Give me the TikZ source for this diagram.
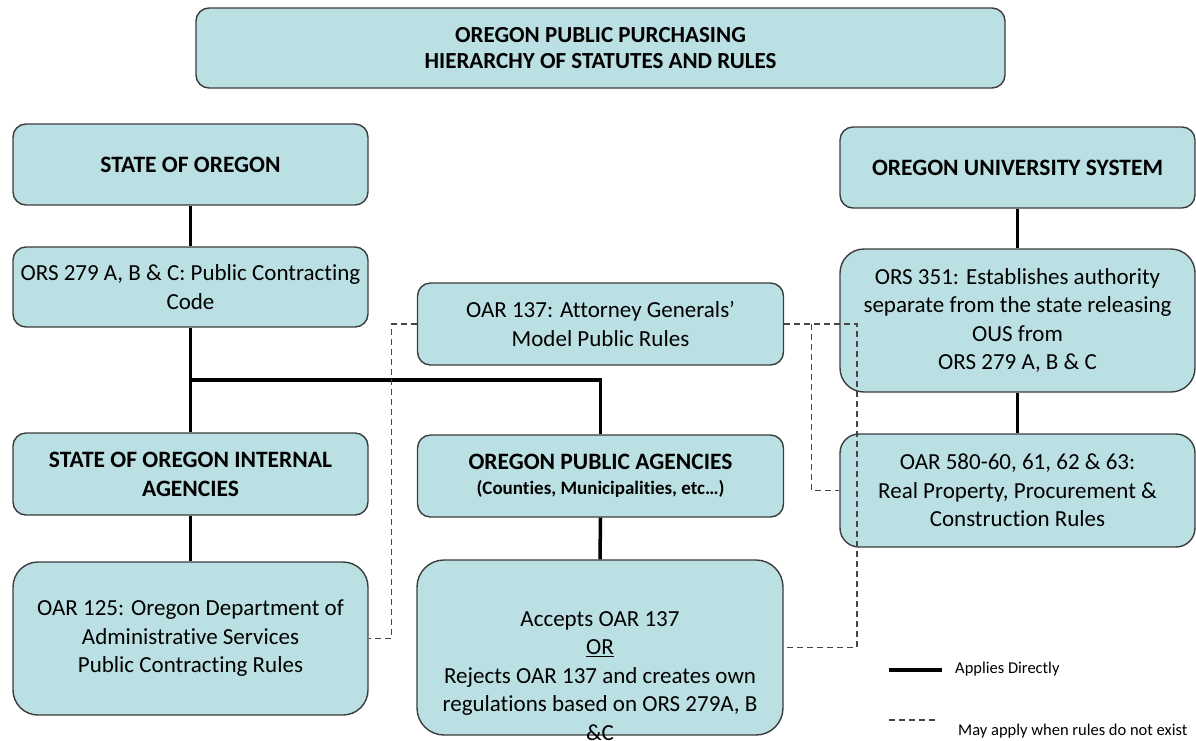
\documentclass[tikz,border=0pt]{standalone}
\usepackage{fontspec}
\setmainfont{Carlito}[Ligatures=NoCommon]
\definecolor{boxfill}{RGB}{187,224,227}
\definecolor{boxline}{RGB}{60,60,60}
\definecolor{dashgray}{RGB}{70,70,70}
\begin{document}
\begin{tikzpicture}[x=1pt,y=-1pt,
  card/.style={draw=boxline, line width=1.4pt, fill=boxfill, rounded corners=13pt,
    inner sep=0pt, align=center, text=black, font=\fontsize{23}{28.5}\selectfont},
  head/.style={card, font=\bfseries\fontsize{23.5}{29}\selectfont},
  plaintext/.style={inner sep=0pt, align=center, text=black, font=\fontsize{23}{28.5}\selectfont},
  legendtext/.style={inner sep=0pt, anchor=west, text=black, font=\fontsize{16.5}{19}\selectfont},
  direct/.style={line width=3.5pt, black},
  maybe/.style={line width=1.3pt, draw=dashgray, dash pattern=on 6pt off 4pt},
]
\useasboundingbox (0,0) rectangle (1196,740);

% title
\node[head, minimum width=809pt, minimum height=80pt, font=\bfseries\fontsize{23}{26}\selectfont]
  (title) at (600.5,48) {OREGON PUBLIC PURCHASING\\HIERARCHY OF STATUTES AND RULES};

% left column: state of Oregon
\node[head, minimum width=355pt, minimum height=81pt] (state) at (190.5,164.5) {STATE OF OREGON};
\node[card, minimum width=355pt, minimum height=80pt] (ors279) at (190.5,287) {ORS 279 A, B \& C: Public Contracting\\Code};
\node[head, minimum width=355pt, minimum height=82pt] (internal) at (190.5,474) {STATE OF OREGON INTERNAL\\AGENCIES};
\node[card, minimum width=355pt, minimum height=153pt, rounded corners=25pt] (oar125) at (190.5,638.5)
  {OAR 125: Oregon Department of\\Administrative Services\\Public Contracting Rules};

% middle column: public agencies
\node[card, minimum width=366pt, minimum height=82pt] (oar137) at (600.5,324) {OAR 137: Attorney Generals’\\Model Public Rules};
\node[head, minimum width=366pt, minimum height=82pt] (agencies) at (600.5,476)
  {OREGON PUBLIC AGENCIES\\[-4pt]{\fontsize{19}{21}\selectfont (Counties, Municipalities, etc…)}};
\node[card, minimum width=366pt, minimum height=175pt, rounded corners=27pt] (choice) at (600,647.5) {};
\node[plaintext] (choicetext) at (600,676)
  {Accepts OAR 137\\\underline{OR}\\Rejects OAR 137 and creates own\\regulations based on ORS 279A, B\\\&C};

% right column: university system
\node[head, minimum width=355pt, minimum height=81pt] (ous) at (1017.5,167.5) {OREGON UNIVERSITY SYSTEM};
\node[card, minimum width=355pt, minimum height=143pt, rounded corners=24pt] (ors351) at (1017.5,320.5)
  {ORS 351: Establishes authority\\separate from the state releasing\\OUS from\\ORS 279 A, B \& C};
\node[card, minimum width=355pt, minimum height=113pt, rounded corners=19pt] (oar580) at (1017.5,490.5)
  {OAR 580-60, 61, 62 \& 63:\\Real Property, Procurement \&\\Construction Rules};

% direct application
\draw[direct] (state.south) -- (ors279.north);
\draw[direct] (ors279.south) -- (internal.north);
\coordinate (branch) at (190.5,380);
\draw[direct] (branch) -| (agencies.north);
\draw[direct] (internal.south) -- (oar125.north);
\draw[direct] (agencies.south) -- (choice.north);
\draw[direct] (ous.south) -- (ors351.north);
\draw[direct] (ors351.south) -- (oar580.north);

% fallback application
\draw[maybe] (oar137.west) -- ++(-25,0) |- (oar125.east);
\draw[maybe] (oar137.east) -- (857,324) |- (choice.east);
\coordinate (split) at (811.5,324);
\draw[maybe] (split) |- (oar580.west);

% legend
\coordinate (solidA) at (889,670);
\coordinate (solidB) at (942,670);
\draw[direct, line width=4pt] (solidA) -- (solidB);
\node[legendtext] (solidlabel) at (955,669) {Applies Directly};
\coordinate (dashA) at (889,720);
\coordinate (dashB) at (938,720);
\draw[maybe] (dashA) -- (dashB);
\node[legendtext] (dashlabel) at (958,731) {May apply when rules do not exist};
\end{tikzpicture}
\end{document}
